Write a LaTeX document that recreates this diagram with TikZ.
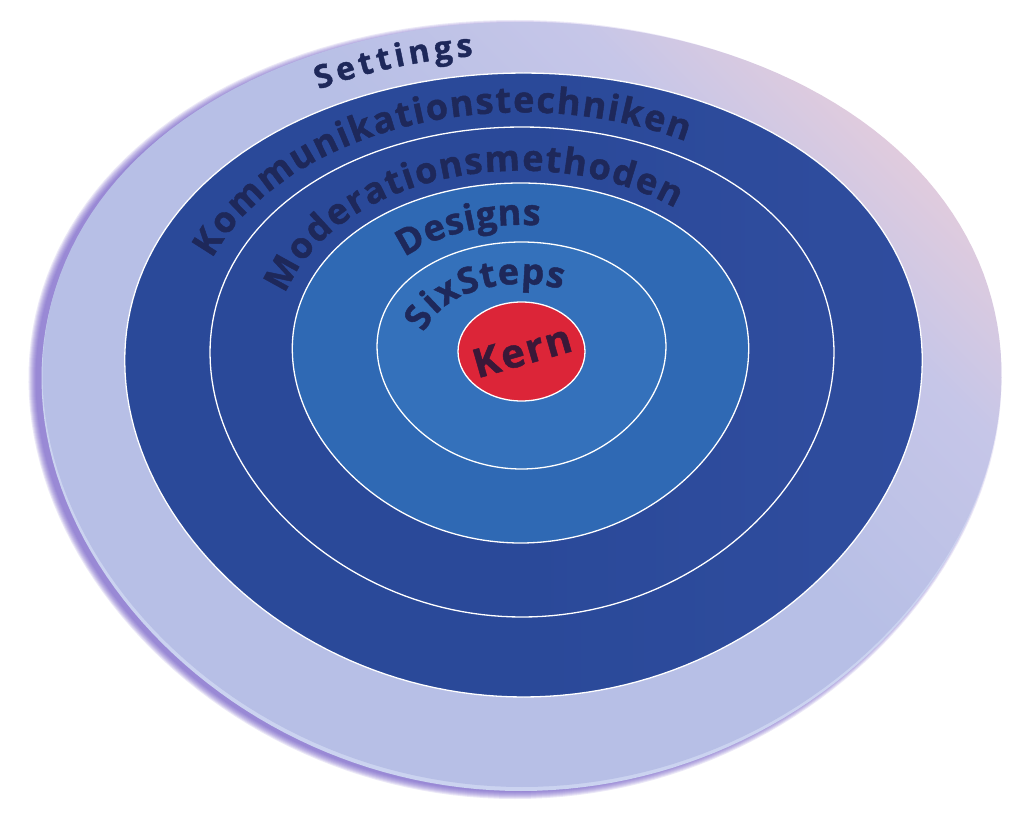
\documentclass[tikz,border=0pt]{standalone}
\usepackage{fontspec}
\setmainfont{Open Sans}
\newfontfamily\lblfont[BoldFeatures={FakeBold=1.2}]{Open Sans}
\usetikzlibrary{decorations.text}
\definecolor{navytext}{HTML}{1E285A}
\definecolor{kerntext}{HTML}{3A1838}
\definecolor{lavL}{HTML}{B7BFE6}
\definecolor{lavM}{HTML}{C6C6E8}
\definecolor{pinkish}{HTML}{EDCED8}
\definecolor{rimcol}{HTML}{CBD3F0}
\definecolor{shadowpurple}{HTML}{6A52C4}
\definecolor{kommL}{HTML}{2A4999}
\definecolor{kommR}{HTML}{3550A3}
\definecolor{designscol}{HTML}{2F69B4}
\definecolor{sixcol}{HTML}{3471BB}
\definecolor{kerncol}{HTML}{DC2538}
\pgfdeclarehorizontalshading{discshade}{100bp}{color(0bp)=(lavL); color(55bp)=(lavL); color(68bp)=(lavM); color(80bp)=(pinkish); color(100bp)=(pinkish)}
\pgfdeclarehorizontalshading{blueshade}{100bp}{color(0bp)=(kommL); color(50bp)=(kommL); color(100bp)=(kommR)}
\def\kk{0.08}
% closed egg-like ellipse: cx, cy, rx, ry
\newcommand\egg[4]{plot[domain=0:360,samples=181,variable=\ang]({(#1)+(#3)*cos(\ang)*(1+\kk*sin(\ang))},{(#2)+(#4)*sin(\ang)}) -- cycle}
% open arc of the same shape: cx, cy, rx, ry, start angle, end angle
\newcommand\eggarc[6]{plot[domain=0:1,samples=160,variable=\ang]({(#1)+(#3)*cos((#5)+((#6)-(#5))*\ang)*(1+\kk*sin((#5)+((#6)-(#5))*\ang))},{(#2)+(#4)*sin((#5)+((#6)-(#5))*\ang)})}
\newcommand\fSet{\lblfont\bfseries\fontsize{32pt}{32pt}\selectfont\kern4.2pt}
\newcommand\fKomm{\lblfont\bfseries\fontsize{36pt}{36pt}\selectfont\kern1.6pt}
\newcommand\fMod{\lblfont\bfseries\fontsize{36pt}{36pt}\selectfont\kern1.5pt}
\newcommand\fDes{\lblfont\bfseries\fontsize{36pt}{36pt}\selectfont\kern0.5pt}
\newcommand\fSix{\lblfont\bfseries\fontsize{36pt}{36pt}\selectfont\kern1pt}
\tikzset{
  ringline/.style={draw=white, line width=1.3pt},
  ringtext/.style={decorate, decoration={text along path, text color=navytext, text align=left, text={#1}}}
}
\begin{document}
\begin{tikzpicture}[x=1pt,y=1pt]
\useasboundingbox (0,0) rectangle (1030,823);
\fill[white] (0,0) rectangle (1030,823);
% shadow of the disc
\foreach \i in {0,...,7}{
  \fill[shadowpurple, opacity=0.13] \egg{515}{413.5}{478+\i}{382.5+\i};
}
% rim
\fill[rimcol] \egg{521}{414.5}{478}{382.5};
% top face
\shade[shading=discshade, shading angle=45] \egg{522}{418.5}{478}{382.5};
% rings
\shadedraw[shading=blueshade, ringline] \egg{523.5}{438}{397.5}{312};
\shadedraw[shading=blueshade, ringline] \egg{522}{451}{311}{245};
\filldraw[fill=designscol, ringline] \egg{520.5}{460}{227.5}{180};
\filldraw[fill=sixcol, ringline] \egg{521.5}{467.5}{144}{113.5};
\filldraw[fill=kerncol, ringline] (521.5,471.5) ellipse [x radius=63.5pt, y radius=49.5pt];
% curved labels
\path[ringtext={|\fSet|Settings}] \eggarc{522.5}{430.8}{427}{338}{117}{40};
\path[ringtext={|\fKomm|Kommunikationstechniken}] \eggarc{522.4}{447.5}{334.4}{263.1}{154}{20};
\path[ringtext={|\fMod|Moderationsmethoden}] \eggarc{520.8}{458}{246}{194.3}{159}{10};
\path[ringtext={|\fDes|Designs}] \eggarc{521.2}{465.3}{168.2}{132.8}{131}{30};
\path[ringtext={|\fSix|SixSteps}] \eggarc{521.5}{467}{100}{72}{162}{20};
\node[font=\lblfont\bfseries\fontsize{40pt}{40pt}\selectfont, text=kerntext, rotate=16, inner sep=0pt] (kern) at (522,472) {K\kern2pt e\kern2pt r\kern2pt n};
\end{tikzpicture}
\end{document}
